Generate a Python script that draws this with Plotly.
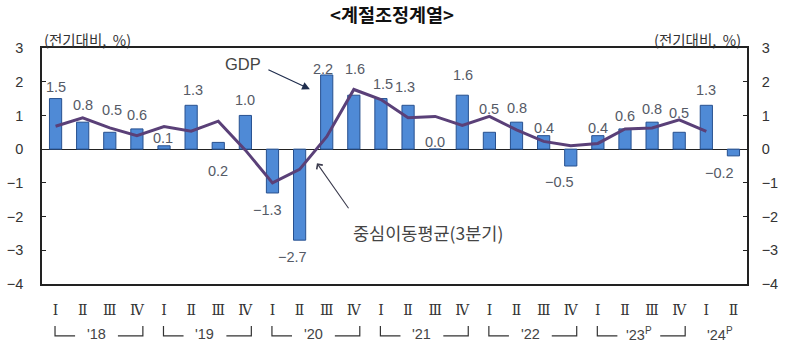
import plotly.graph_objects as go

# ---- data ----
quarters = ["Ⅰ", "Ⅱ", "Ⅲ", "Ⅳ"] * 6 + ["Ⅰ", "Ⅱ"]
years = ["'18", "'19", "'20", "'21", "'22", "'23<sup>P</sup>", "'24<sup>P</sup>"]
gdp = [1.5, 0.8, 0.5, 0.6,
       0.1, 1.3, 0.2, 1.0,
       -1.3, -2.7, 2.2, 1.6,
       1.5, 1.3, 0.0, 1.6,
       0.5, 0.8, 0.4, -0.5,
       0.4, 0.6, 0.8, 0.5,
       1.3, -0.2]
moving_avg = [0.68, 0.93, 0.63, 0.40,
              0.67, 0.53, 0.83, -0.03,
              -1.00, -0.60, 0.37, 1.77,
              1.47, 0.93, 0.97, 0.70,
              0.97, 0.57, 0.23, 0.10,
              0.17, 0.60, 0.63, 0.87,
              0.53]

# ---- label styling (pixel nudges) ----
label_dy = [12, 17, 22, 14, 8, 15, -29, 15, -17, -17, 6, 26, 15, 18, 7, 20,
            23, 14, 8, -16, 8, 13, 13, 19, 15, -17]
label_dx = [0, 0, 2, 0, -1, 2, 0, 0, -5, -7, -4, 1, 2, -3, 0, 1,
            0, 0, 0, -11, 0, 0, 0, 0, 0, -14]

xs = list(range(len(gdp)))
LBL = "#555a66"
AX = "#222222"

fig = go.Figure()
fig.add_trace(go.Bar(
    x=xs, y=gdp, width=0.45,
    marker=dict(color="#4f8ad6", line=dict(color="#27508f", width=1)),
    showlegend=False, hoverinfo="skip"))
fig.add_trace(go.Scatter(
    x=xs[:len(moving_avg)], y=moving_avg, mode="lines",
    line=dict(color="#5a4078", width=3),
    showlegend=False, hoverinfo="skip"))
# invisible trace to activate right axis
fig.add_trace(go.Scatter(x=[0], y=[0], yaxis="y2", mode="markers",
                         marker=dict(opacity=0), showlegend=False, hoverinfo="skip"))

ann = []
for i, v in enumerate(gdp):
    txt = f"{v:.1f}".replace("-", "−")
    ann.append(dict(x=i, y=v, xref="x", yref="y", text=txt, showarrow=False,
                    xshift=label_dx[i], yshift=label_dy[i], yanchor="middle",
                    font=dict(family="Liberation Sans", size=14.5, color=LBL)))

# series annotations
ann.append(dict(x=6.91, y=2.52, xref="x", yref="y", text="GDP", showarrow=False,
                font=dict(family="Liberation Sans", size=16.5, color="#444"),
                yanchor="middle"))
ann.append(dict(x=9.38, y=1.78, xref="x", yref="y", text=" ", showarrow=True,
                ax=-43, ay=-20, arrowhead=2, arrowsize=1.3, arrowwidth=1.2,
                arrowcolor="#1f2d4d", font=dict(size=1)))
ann.append(dict(x=13.73, y=-2.46, xref="x", yref="y", text="중심이동평균(3분기)",
                showarrow=False, yanchor="middle",
                font=dict(family="Noto Sans CJK KR", size=17.5, color="#444")))
ann.append(dict(x=9.64, y=-0.42, xref="x", yref="y", text=" ", showarrow=True,
                ax=33, ay=47, arrowhead=4, arrowsize=1.3, arrowwidth=1.1,
                arrowcolor="#3b3b4d", font=dict(size=1)))

# unit labels
unit = "(전기대비,\u00a0\u00a0%)"
ann.append(dict(x=0.0, y=1.034, xref="paper", yref="paper", text=unit,
                showarrow=False, xanchor="left", yanchor="middle",
                font=dict(family="Noto Sans CJK KR", size=14.5, color="#333")))
ann.append(dict(x=0.995, y=1.034, xref="paper", yref="paper", text=unit,
                showarrow=False, xanchor="right", yanchor="middle",
                font=dict(family="Noto Sans CJK KR", size=14.5, color="#333")))

# year labels and brackets
shapes = []
YB_TOP, YB_BOT, YT = -0.178, -0.220, -0.212
for k, yl in enumerate(years):
    i0 = 4 * k
    n = 4 if k < len(years) - 1 else 2
    txt = yl.replace("<sup>", "<sup><span style='font-size:10px'>").replace("</sup>", "</span></sup>")
    ann.append(dict(x=i0 + (n - 1) / 2, y=YT, xref="x", yref="paper", text=txt,
                    showarrow=False, yanchor="middle",
                    font=dict(family="Liberation Sans", size=14.5, color="#444")))
    if n == 4:
        L, R = i0 - 0.02, i0 + 3.22
        line = dict(color="#333", width=1.2)
        shapes.append(dict(type="path", xref="x", yref="paper",
                           path=f"M{L},{YB_TOP} L{L},{YB_BOT} L{i0 + 0.72},{YB_BOT}",
                           line=line))
        shapes.append(dict(type="path", xref="x", yref="paper",
                           path=f"M{i0 + 2.3},{YB_BOT} L{R},{YB_BOT} L{R},{YB_TOP}",
                           line=line))

fig.update_layout(
    width=800, height=355,
    margin=dict(l=42, r=53, t=48, b=71),
    paper_bgcolor="white", plot_bgcolor="white",
    title=dict(text="<b>&lt;계절조정계열&gt;</b>", x=0.49, xanchor="center",
               y=0.956, yanchor="middle",
               font=dict(family="Noto Sans CJK KR", size=18.5, color="#111")),
    xaxis=dict(range=[-0.5, 25.5], tickvals=xs, ticktext=quarters,
               showgrid=False, zeroline=False, showline=True, mirror=True,
               linecolor=AX, linewidth=1.5, ticks="", ticklabelstandoff=12,
               automargin=False,
               tickfont=dict(family="DejaVu Serif", size=14, color="#333")),
    yaxis=dict(range=[-4, 3], dtick=1, showgrid=False, zeroline=True,
               zerolinecolor=AX, zerolinewidth=1, showline=True, linecolor=AX,
               linewidth=1.5, ticks="inside", ticklen=4, tickcolor=AX,
               ticklabelstandoff=14, automargin=False,
               tickfont=dict(family="Liberation Sans", size=14.5, color="#333")),
    yaxis2=dict(range=[-4, 3], dtick=1, overlaying="y", side="right",
                showgrid=False, zeroline=False, showline=True, linecolor=AX,
                linewidth=1.5, ticks="inside", ticklen=4, tickcolor=AX,
                ticklabelstandoff=10, automargin=False,
                tickfont=dict(family="Liberation Sans", size=14.5, color="#333")),
    annotations=ann, shapes=shapes,
)

fig.write_html("out.html", config={"displayModeBar": False},
               post_script="document.body.style.margin='0';document.body.style.overflow='hidden';")
